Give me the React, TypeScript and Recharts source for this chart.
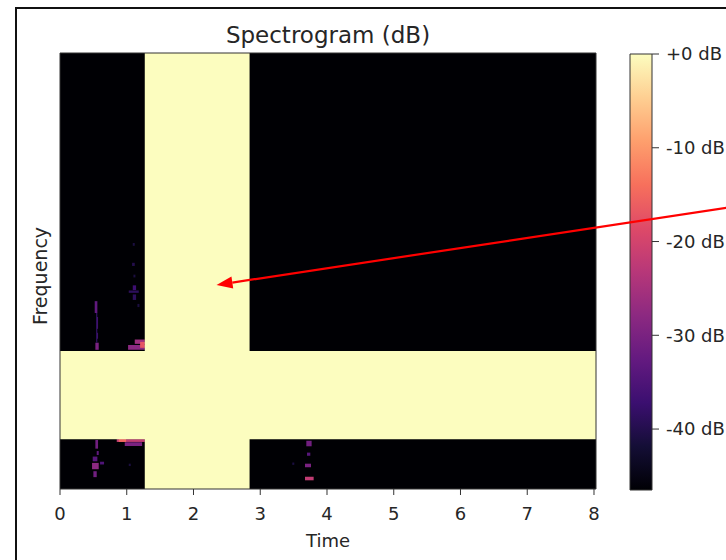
import React from 'react';
import { ComposedChart, XAxis, YAxis, ReferenceArea, ReferenceLine } from 'recharts';

// axes
const timeTicks = [0, 1, 2, 3, 4, 5, 6, 7, 8];
const timeDomain: [number, number] = [0, 8.03];
const freqDomain: [number, number] = [0, 11.025]; // kHz
const dbTicks = [0, -10, -20, -30, -40];
const dbDomain: [number, number] = [-46.5, 0];

// loud (0 dB) bands: time range x frequency range
const bandT0 = [1.27, 0];
const bandT1 = [2.84, 8.03];
const bandF0 = [0, 1.26];
const bandF1 = [11.025, 3.49];
const bandDb = [0, 0];

// quieter speckles in the spectrogram
const speckT0 = [0.52, 0.54, 0.55, 0.53, 1.09, 1.08, 1.09, 1.03, 1.09, 1.02, 1.12, 1.2, 0.85, 0.97, 0.88, 0.53, 0.55, 0.49, 0.48, 0.5, 0.6, 1.03, 3.69, 3.7, 3.67, 3.67, 3.48, 1.1, 1.16, 0.54];
const speckT1 = [0.56, 0.57, 0.57, 0.58, 1.12, 1.12, 1.14, 1.18, 1.14, 1.27, 1.27, 1.27, 1.27, 1.23, 0.99, 0.57, 0.58, 0.56, 0.58, 0.55, 0.66, 1.06, 3.77, 3.75, 3.76, 3.8, 3.51, 1.13, 1.19, 0.56];
const speckF0 = [4.45, 4.05, 3.8, 3.52, 6.15, 5.64, 5.03, 4.96, 4.78, 3.52, 3.67, 3.57, 1.19, 1.09, 1.19, 1.02, 0.86, 0.7, 0.5, 0.3, 0.62, 0.58, 1.08, 0.84, 0.55, 0.22, 0.61, 5.35, 4.6, 3.7];
const speckF1 = [4.75, 4.35, 3.95, 3.7, 6.22, 5.72, 5.15, 5.02, 4.92, 3.64, 3.78, 3.72, 1.26, 1.18, 1.26, 1.24, 0.96, 0.82, 0.66, 0.45, 0.69, 0.64, 1.22, 0.92, 0.64, 0.31, 0.67, 5.42, 4.68, 4.45];
const speckDb = [-33, -35, -36, -30, -41, -40, -37, -39, -39, -28, -26, -17, -22, -30, -15, -31, -33, -34, -28, -31, -35, -41, -31, -34, -30, -22, -41, -41, -41, -39];

// annotation arrow (data coordinates: tail -> head)
const arrowTime = [9.98, 2.345];
const arrowFreq = [7.11, 5.16];

const MAGMA = ['#000004', '#140e36', '#3b0f70', '#641a80', '#8c2981', '#b73779', '#de4968', '#f7705c', '#fe9f6d', '#fecf92', '#fcfdbf'];

function hexToRgb(h: string) {
  return [parseInt(h.slice(1, 3), 16), parseInt(h.slice(3, 5), 16), parseInt(h.slice(5, 7), 16)];
}
function magma(db: number) {
  let v = (db - dbDomain[0]) / (dbDomain[1] - dbDomain[0]);
  v = Math.max(0, Math.min(1, v));
  const p = v * (MAGMA.length - 1);
  const i = Math.min(MAGMA.length - 2, Math.floor(p));
  const f = p - i;
  const a = hexToRgb(MAGMA[i]);
  const b = hexToRgb(MAGMA[i + 1]);
  const c = a.map((x, k) => Math.round(x + (b[k] - x) * f));
  return `rgb(${c[0]},${c[1]},${c[2]})`;
}

const FONT = '"DejaVu Sans", sans-serif';
const TEXT = '#262626';
const SPINE = '#333333';

const ArrowShape = (p: any) => {
  const { x1, y1, x2, y2 } = p;
  if ([x1, y1, x2, y2].some((v) => typeof v !== 'number' || isNaN(v))) return null;
  const ang = Math.atan2(y2 - y1, x2 - x1);
  const len = 16;
  const hw = 6;
  const bx = x2 - len * Math.cos(ang);
  const by = y2 - len * Math.sin(ang);
  const px = -Math.sin(ang);
  const py = Math.cos(ang);
  return (
    <g>
      <line x1={x1} y1={y1} x2={bx} y2={by} stroke="#ff0000" strokeWidth={2.2} />
      <polygon
        points={`${x2},${y2} ${bx + px * hw},${by + py * hw} ${bx - px * hw},${by - py * hw}`}
        fill="#ff0000"
      />
    </g>
  );
};

const FreqLabel = (props: any) => {
  const vb = props.viewBox || {};
  const cx = 40;
  const cy = (vb.y ?? 53) + (vb.height ?? 436) / 2 + 5;
  return (
    <text x={cx} y={cy} transform={`rotate(-90 ${cx} ${cy})`} textAnchor="middle" dominantBaseline="central"
      fontFamily={FONT} fontSize={19} fill={TEXT}>
      Frequency
    </text>
  );
};

const colorbarData = [{ x: 0 }, { x: 1 }];

export default function App() {
  return (
    <div style={{ position: 'absolute', left: 0, top: 0, width: 726, height: 560, overflow: 'hidden', background: '#fff' }}>
      <div style={{ position: 'absolute', left: 15, top: 7, width: 800, height: 700, border: '2px solid #111' }} />
      <div style={{ position: 'absolute', left: 0, top: 21, width: 656, textAlign: 'center', fontFamily: FONT, fontSize: 23, color: TEXT, lineHeight: '28px' }}>
        Spectrogram (dB)
      </div>

      {/* colorbar */}
      <div style={{ position: 'absolute', left: 0, top: 0 }}>
        <ComposedChart width={726} height={560} data={colorbarData} margin={{ top: 54, right: 0, bottom: 70, left: 630 }}>
          <defs>
            <linearGradient id="magmaGrad" x1="0" y1="1" x2="0" y2="0">
              {MAGMA.map((c, i) => (
                <stop key={i} offset={`${(i / (MAGMA.length - 1)) * 100}%`} stopColor={c} />
              ))}
            </linearGradient>
          </defs>
          <XAxis type="number" dataKey="x" domain={[0, 1]} height={0} tick={false} axisLine={false} tickLine={false} />
          <YAxis
            type="number"
            orientation="right"
            domain={dbDomain}
            ticks={dbTicks}
            width={74}
            axisLine={false}
            tickSize={7}
            tickMargin={7}
            tickLine={{ stroke: SPINE }}
            tick={{ fontSize: 18, fill: TEXT, fontFamily: FONT }}
            tickFormatter={(v: number) => (v === 0 ? '+0 dB' : `${v} dB`)}
            allowDataOverflow
          />
          <ReferenceArea x1={0} x2={1} y1={dbDomain[0]} y2={dbDomain[1]} fill="url(#magmaGrad)" fillOpacity={1} stroke={SPINE} strokeWidth={1} ifOverflow="visible" />
        </ComposedChart>
      </div>

      {/* spectrogram */}
      <div style={{ position: 'absolute', left: 0, top: 0 }}>
        <ComposedChart width={726} height={560} margin={{ top: 53, right: 130, bottom: 13, left: 30 }}>
          <XAxis
            type="number"
            dataKey="t"
            domain={timeDomain}
            ticks={timeTicks}
            allowDataOverflow
            height={58}
            axisLine={false}
            tickSize={6}
            tickMargin={12}
            tickLine={{ stroke: SPINE }}
            tick={{ fontSize: 18, fill: TEXT, fontFamily: FONT }}
            label={{ value: 'Time', position: 'insideBottom', offset: 0, style: { fontSize: 18, fill: TEXT, fontFamily: FONT } }}
          />
          <YAxis type="number" dataKey="f" domain={freqDomain} allowDataOverflow width={30} tick={false} axisLine={false} tickLine={false}
            label={<FreqLabel />} />
          <ReferenceArea x1={timeDomain[0]} x2={timeDomain[1]} y1={freqDomain[0]} y2={freqDomain[1]} fill={magma(dbDomain[0])} fillOpacity={1} stroke="none" />
          {speckT0.map((t0, i) => (
            <ReferenceArea key={`s${i}`} x1={t0} x2={speckT1[i]} y1={speckF0[i]} y2={speckF1[i]} fill={magma(speckDb[i])} fillOpacity={1} stroke="none" />
          ))}
          {bandT0.map((t0, i) => (
            <ReferenceArea key={`b${i}`} x1={t0} x2={bandT1[i]} y1={bandF0[i]} y2={bandF1[i]} fill={magma(bandDb[i])} fillOpacity={1} stroke="none" />
          ))}
          <ReferenceArea x1={timeDomain[0]} x2={timeDomain[1]} y1={freqDomain[0]} y2={freqDomain[1]} fill="none" stroke={SPINE} strokeWidth={1} />
          <ReferenceLine
            segment={[{ x: arrowTime[0], y: arrowFreq[0] }, { x: arrowTime[1], y: arrowFreq[1] }]}
            ifOverflow="visible"
            shape={ArrowShape}
          />
        </ComposedChart>
      </div>
    </div>
  );
}
